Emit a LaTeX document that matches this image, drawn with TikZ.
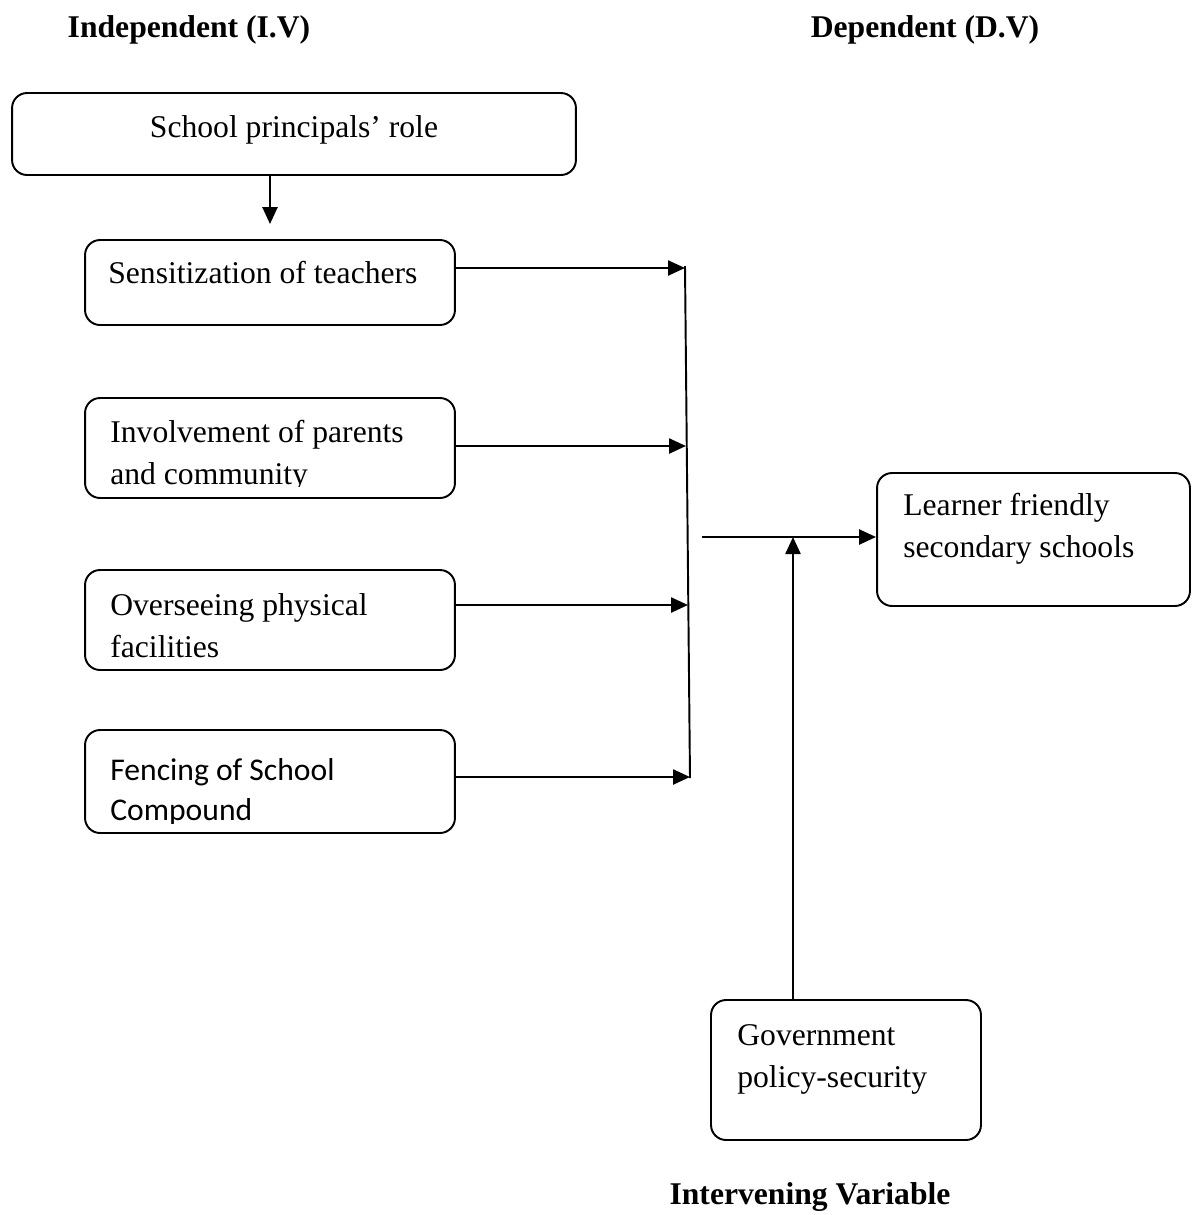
\documentclass[tikz,border=0pt]{standalone}
\usepackage{fontspec}
\setmainfont{Liberation Serif}
\newfontfamily\calibri{Carlito}
\usetikzlibrary{arrows.meta,positioning}

\begin{document}
\begin{tikzpicture}
		[x=0.02cm,y=-0.02cm,
		box/.style={draw,rounded corners=0.3cm,line width=1.1pt,inner sep=0pt},
		txt/.style={font=\fontsize{18}{23.5}\selectfont,align=left,inner sep=0pt,anchor=base west},
		head/.style={font=\fontsize{18}{22}\selectfont\bfseries,inner sep=0pt,anchor=base},
		arr/.style={-{Triangle[length=0.34cm,width=0.3cm]},line width=1.4pt}]
		\useasboundingbox (0,0) rectangle (1196,1215);
		
		% headings
		\node[head] (iv) at (189,37) {Independent (I.V)};
		\node[head] (dv) at (925,37) {Dependent (D.V)};
		\node[head] (int) at (810,1204) {Intervening Variable};
		
		% boxes
		\node[box,minimum width=11.28cm,minimum height=1.64cm] (role) at (294,134) {};
		\node[box,minimum width=7.4cm,minimum height=1.7cm] (sens) at (270,282.5) {};
		\node[box,minimum width=7.4cm,minimum height=2cm] (invol) at (270,448) {};
		\node[box,minimum width=7.4cm,minimum height=2cm] (phys) at (270,620) {};
		\node[box,minimum width=7.4cm,minimum height=2.06cm] (fence) at (270,781.5) {};
		\node[box,minimum width=6.26cm,minimum height=2.66cm] (learner) at (1033.5,539.5) {};
		\node[box,minimum width=5.4cm,minimum height=2.8cm] (govt) at (846,1070) {};
		
		% texts (base = last line)
		\node[txt,anchor=base] (roletxt) at (294,137) {School principals’ role};
		\node[txt] (senstxt) at (108,283) {Sensitization of teachers};
		\begin{scope}
		\clip (86,399) rectangle (454,486);
		\node[txt] (involtxt) at (110,484) {Involvement of parents\\and community};
		\end{scope}
		\node[txt] (phystxt) at (110,657) {Overseeing physical\\facilities};
		\begin{scope}
		\clip (86,731) rectangle (454,823);
		\node[txt,font=\calibri\fontsize{18}{22.5}\selectfont] (fencetxt) at (110,820) {Fencing of School\\Compound};
		\end{scope}
		\node[txt] (learnertxt) at (903,557) {Learner friendly\\secondary schools};
		\node[txt] (govttxt) at (737,1087) {Government\\policy-security};
		
		% bus line and arrow ends
		\coordinate (bustop) at (685,266);
		\coordinate (busbot) at (690,778);
		\coordinate (b1) at (685,268);
		\coordinate (b2) at (686,446);
		\coordinate (b3) at (688,605);
		\coordinate (b4) at (690,777);
		\coordinate (join) at (702,537);
		\coordinate (meet) at (793,537);
		
		\draw[line width=1.1pt] (bustop) -- (busbot);
		\draw[arr,shorten >=0.3cm] (sens.north |- role.south) to (sens.north);
		\draw[arr] (sens.east |- b1) to (b1);
		\draw[arr] (invol.east |- b2) to (b2);
		\draw[arr] (phys.east |- b3) to (b3);
		\draw[arr] (fence.east |- b4) to (b4);
		\draw[arr] (join) to (join -| learner.west);
		\draw[arr] (meet |- govt.north) to (meet);
		\end{tikzpicture}
\end{document}
